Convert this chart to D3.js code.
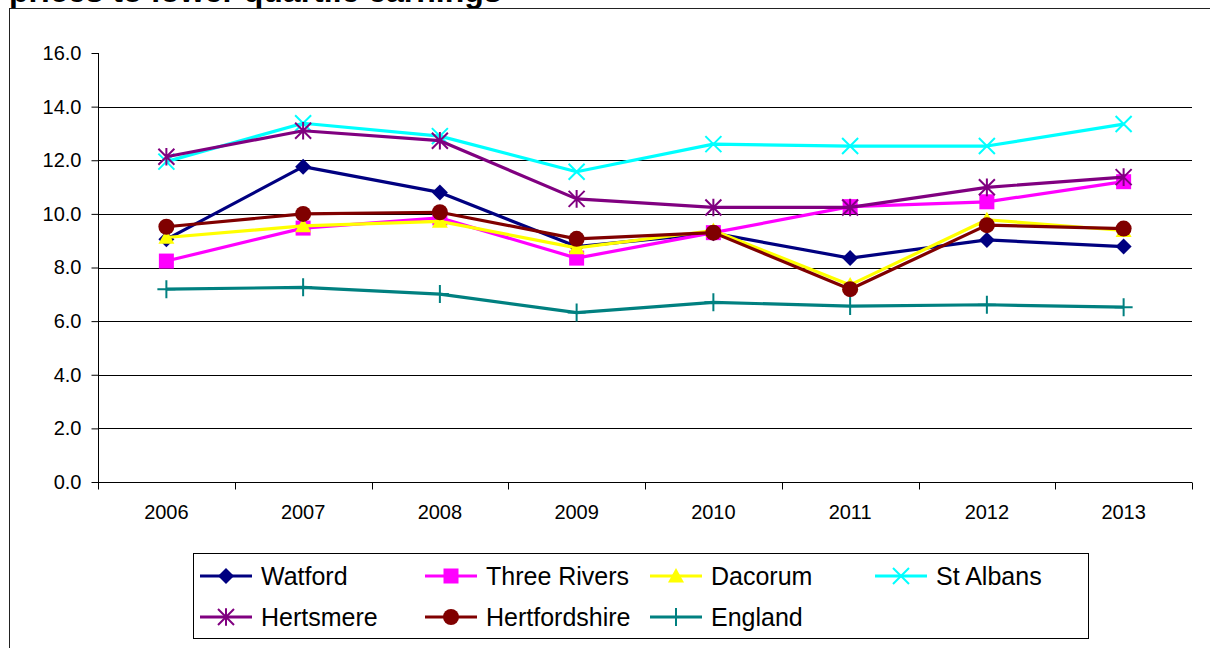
<!DOCTYPE html>
<html>
<head>
<meta charset="utf-8">
<script src="https://cdn.jsdelivr.net/npm/d3@7"></script>
<style>
  html, body { margin: 0; padding: 0; background: #fff; }
  svg { display: block; font-family: "Liberation Sans", Arial, sans-serif; }
</style>
</head>
<body>
<svg id="chart" width="1210" height="648"></svg>
<script>
// ---- Data ----
const years = ["2006", "2007", "2008", "2009", "2010", "2011", "2012", "2013"];
const yTicks = [0, 2, 4, 6, 8, 10, 12, 14, 16];
const seriesNames = ["Watford", "Three Rivers", "Dacorum", "St Albans", "Hertsmere", "Hertfordshire", "England"];
const watford      = [9.05, 11.76, 10.8, 8.78, 9.28, 8.35, 9.03, 8.78];
const threeRivers  = [8.24, 9.47, 9.85, 8.35, 9.3, 10.27, 10.45, 11.2];
const dacorum      = [9.12, 9.55, 9.72, 8.73, 9.38, 7.35, 9.78, 9.38];
const stAlbans     = [11.95, 13.38, 12.9, 11.57, 12.6, 12.53, 12.53, 13.35];
const hertsmere    = [12.13, 13.1, 12.73, 10.56, 10.24, 10.24, 10.99, 11.37];
const hertfordshire= [9.52, 10.0, 10.06, 9.07, 9.3, 7.19, 9.58, 9.45];
const england      = [7.19, 7.26, 7.01, 6.32, 6.7, 6.56, 6.61, 6.52];
const seriesValues = [watford, threeRivers, dacorum, stAlbans, hertsmere, hertfordshire, england];
const seriesColors = ["#000080", "#FF00FF", "#FFFF00", "#00FFFF", "#800080", "#800000", "#008080"];
const seriesMarkers = ["diamond", "square", "triangle", "x", "star", "circle", "plus"];
const titleLine = "prices to lower quartile earnings";

// ---- Setup ----
const svg = d3.select("#chart");
const plot = { left: 98, right: 1192, top: 53, bottom: 482 };

const x = d3.scaleBand().domain(years).range([plot.left, plot.right]).paddingInner(0).paddingOuter(0);
const y = d3.scaleLinear().domain([0, 16]).range([plot.bottom, plot.top]);

// Title (clipped at top, as in the reference)
svg.append("text")
  .attr("x", 9).attr("y", 2)
  .attr("font-weight", "bold").attr("font-size", 32)
  .attr("fill", "#000")
  .text(titleLine);

// Chart border
svg.append("rect")
  .attr("x", 9.5).attr("y", 8.5).attr("width", 1260).attr("height", 700)
  .attr("fill", "none").attr("stroke", "#222").attr("stroke-width", 1);

// Gridlines
svg.append("g").selectAll("line")
  .data(yTicks.filter(d => d > 0 && d < 16))
  .join("line")
  .attr("x1", plot.left).attr("x2", plot.right)
  .attr("y1", d => Math.round(y(d)) + 0.5).attr("y2", d => Math.round(y(d)) + 0.5)
  .attr("stroke", "#000").attr("stroke-width", 1);

// Y axis
const yAxis = svg.append("g")
  .attr("transform", `translate(${plot.left + 0.5},0)`)
  .call(d3.axisLeft(y).tickValues(yTicks).tickFormat(d3.format(".1f")).tickSize(7).tickPadding(10));
yAxis.select(".domain").attr("d", `M0,${plot.top}V${plot.bottom}`).attr("stroke", "#000");
yAxis.selectAll(".tick line").attr("stroke", "#000");
yAxis.selectAll("text").attr("font-size", 20).attr("fill", "#000")
  .attr("font-family", "Liberation Sans, Arial, sans-serif");

// X axis
const xAxis = svg.append("g")
  .attr("transform", `translate(0,${plot.bottom + 0.5})`)
  .call(d3.axisBottom(x).tickSize(0).tickPadding(22));
xAxis.select(".domain").attr("d", `M${plot.left},0H${plot.right}`).attr("stroke", "#000");
xAxis.selectAll("text").attr("font-size", 20).attr("fill", "#000")
  .attr("font-family", "Liberation Sans, Arial, sans-serif");
// boundary ticks
const bounds = years.map(d => x(d)).concat([x(years[years.length - 1]) + x.bandwidth()]);
xAxis.append("g").selectAll("line").data(bounds).join("line")
  .attr("x1", d => Math.round(d) + 0.5).attr("x2", d => Math.round(d) + 0.5)
  .attr("y1", 0).attr("y2", 7).attr("stroke", "#000");

// Marker drawing
function drawMarker(g, type, color, cx, cy, scale) {
  const s = scale || 1;
  if (type === "diamond") {
    const r = 8 * s;
    g.append("path").attr("d", `M${cx},${cy - r}L${cx + r},${cy}L${cx},${cy + r}L${cx - r},${cy}Z`).attr("fill", color);
  } else if (type === "square") {
    const r = 7.5 * s;
    g.append("rect").attr("x", cx - r).attr("y", cy - r).attr("width", 2 * r).attr("height", 2 * r).attr("fill", color);
  } else if (type === "triangle") {
    const r = 8 * s;
    g.append("path").attr("d", `M${cx},${cy - r}L${cx + r},${cy + r * 0.8}L${cx - r},${cy + r * 0.8}Z`).attr("fill", color);
  } else if (type === "circle") {
    g.append("circle").attr("cx", cx).attr("cy", cy).attr("r", 8 * s).attr("fill", color);
  } else if (type === "x") {
    const r = 8 * s;
    g.append("path").attr("d", `M${cx - r},${cy - r}L${cx + r},${cy + r}M${cx - r},${cy + r}L${cx + r},${cy - r}`)
      .attr("stroke", color).attr("stroke-width", 2).attr("fill", "none");
  } else if (type === "star") {
    const r = 8 * s;
    g.append("path").attr("d", `M${cx - r},${cy - r}L${cx + r},${cy + r}M${cx - r},${cy + r}L${cx + r},${cy - r}M${cx},${cy - r * 1.1}L${cx},${cy + r * 1.1}`)
      .attr("stroke", color).attr("stroke-width", 2).attr("fill", "none");
  } else if (type === "plus") {
    const r = 9 * s;
    g.append("path").attr("d", `M${cx},${cy - r}L${cx},${cy + r}M${cx - r},${cy}L${cx + r},${cy}`)
      .attr("stroke", color).attr("stroke-width", 2).attr("fill", "none");
  }
}

// Series
const line = d3.line().x((d, i) => x(years[i]) + x.bandwidth() / 2).y(d => y(d));
seriesNames.forEach((name, si) => {
  const g = svg.append("g");
  g.append("path").datum(seriesValues[si])
    .attr("d", line).attr("fill", "none")
    .attr("stroke", seriesColors[si]).attr("stroke-width", 3.2).attr("stroke-linejoin", "round");
  seriesValues[si].forEach((v, i) => {
    drawMarker(g, seriesMarkers[si], seriesColors[si], x(years[i]) + x.bandwidth() / 2, y(v));
  });
});

// Legend
const legend = svg.append("g");
legend.append("rect").attr("x", 193.5).attr("y", 553.5).attr("width", 895).attr("height", 85)
  .attr("fill", "#fff").attr("stroke", "#000").attr("stroke-width", 1);
seriesNames.forEach((name, i) => {
  const col = i % 4, row = Math.floor(i / 4);
  const lx = 200 + col * 225, ly = 576 + row * 41;
  const g = legend.append("g");
  g.append("line").attr("x1", lx).attr("x2", lx + 52).attr("y1", ly).attr("y2", ly)
    .attr("stroke", seriesColors[i]).attr("stroke-width", 3.2);
  drawMarker(g, seriesMarkers[i], seriesColors[i], lx + 26, ly);
  g.append("text").attr("x", lx + 61).attr("y", ly).attr("dy", "0.35em")
    .attr("font-size", 25).attr("fill", "#000").text(name);
});
</script>
</body>
</html>
